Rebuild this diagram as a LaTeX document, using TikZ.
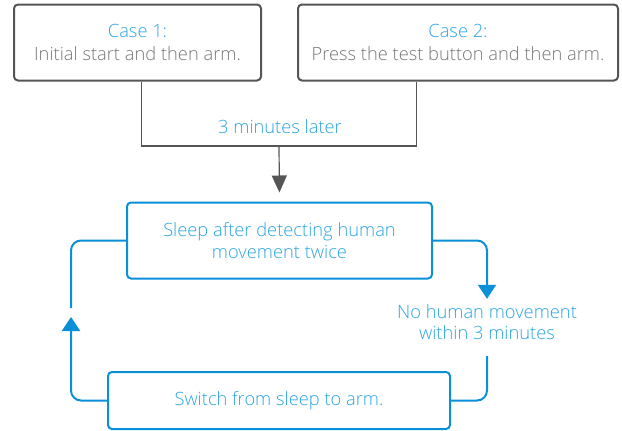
\documentclass[tikz,border=0pt]{standalone}
\usepackage{fontspec}
\setmainfont{Open Sans Light}
\usetikzlibrary{arrows.meta,calc}
\definecolor{bline}{HTML}{0A8FD9}
\definecolor{btext}{HTML}{2AA5E2}
\definecolor{gline}{HTML}{555555}
\definecolor{gtext}{HTML}{777777}
\tikzset{
  graybox/.style={draw=gline,line width=2pt,rounded corners=4pt,inner sep=0pt,align=center,font=\fontsize{18.3}{23}\selectfont},
  bluebox/.style={draw=bline,line width=2pt,rounded corners=4pt,inner sep=0pt,align=center,text=btext,font=\fontsize{18.3}{21.5}\selectfont},
  glink/.style={draw=gline,line width=1.2pt},
  blink/.style={draw=bline,line width=2pt,rounded corners=10pt},
  gtip/.style={-{Triangle[width=15pt,length=17pt]}},
  btip/.style={-{Triangle[width=18pt,length=14pt]}},
  lbl/.style={text=btext,align=center,inner sep=0pt,font=\fontsize{18.3}{21.5}\selectfont}
}
\begin{document}
\begin{tikzpicture}[x=1pt,y=-1pt]
\useasboundingbox (0,0) rectangle (622,431);
\node[graybox,minimum width=247pt,minimum height=76pt] (b1) at (137.5,42.5)
  {\textcolor{btext}{Case 1:}\\\textcolor{gtext}{Initial start and then arm.}};
\node[graybox,minimum width=320pt,minimum height=76pt] (b2) at (458,42.5)
  {\textcolor{btext}{Case 2:}\\\textcolor{gtext}{Press the test button and then arm.}};
\node[bluebox,minimum width=305pt,minimum height=76pt] (b3) at (279.5,240.5)
  {Sleep after detecting human\\movement twice};
\node[bluebox,minimum width=342pt,minimum height=57pt] (b4) at (279,400.5)
  {Switch from sleep to arm.};
\coordinate (m) at (279,146);
\node[lbl,anchor=base] (t3) at (280,133) {3 minutes later};
\draw[glink] ($(b1.south)+(4,0)$) |- (m) -| ($(b2.south)+(-41.5,0)$);
\draw[glink,gtip,shorten >=9pt] (m) -- (b3.north);
\node[lbl,minimum height=46pt] (nh) at (487,322) {No human movement\\within 3 minutes};
\draw[blink,btip] (b3.east) -| (nh.north);
\draw[blink,shorten <=11pt] (nh.south) |- (b4.east);
\coordinate (la) at (71,317);
\coordinate (lb) at (71,308);
\draw[blink,btip] (b4.west) -| (la);
\draw[blink] (lb) |- (b3.west);
\end{tikzpicture}
\end{document}
